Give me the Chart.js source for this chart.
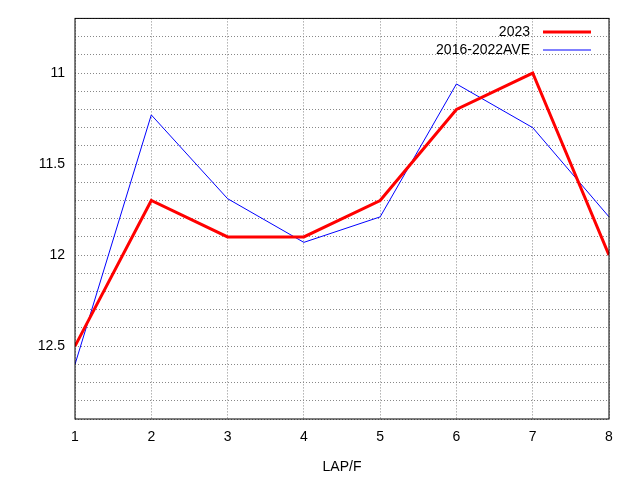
<!DOCTYPE html>
<html>
<head>
<script src="https://cdn.jsdelivr.net/npm/chart.js@4"></script>
<style>body{margin:0;background:#fff}#wrap{width:640px;height:480px}</style>
</head>
<body>
<div id="wrap"><canvas id="c"></canvas></div>
<script>
const laps = [1, 2, 3, 4, 5, 6, 7, 8];
const times2023 = [12.5, 11.7, 11.9, 11.9, 11.7, 11.2, 11.0, 12.0];
const timesAve = [12.6, 11.23, 11.69, 11.93, 11.79, 11.06, 11.3, 11.79];
const yLabels = [11, 11.5, 12, 12.5];

const font = { family: 'Liberation Sans, Arial, sans-serif', size: 14 };

// gnuplot-style key in the top right corner
const keyPlugin = {
  id: 'key',
  afterDraw(chart) {
    const ctx = chart.ctx;
    ctx.save();
    ctx.font = '14px Liberation Sans, Arial, sans-serif';
    ctx.textAlign = 'right';
    ctx.textBaseline = 'middle';
    chart.data.datasets.forEach((ds, i) => {
      const y = 32 + i * 18;
      ctx.fillStyle = '#000';
      ctx.fillText(ds.label, 530, y);
      ctx.strokeStyle = ds.borderColor;
      ctx.lineWidth = ds.borderWidth;
      ctx.beginPath();
      ctx.moveTo(543, y);
      ctx.lineTo(591, y);
      ctx.stroke();
    });
    const a = chart.chartArea;
    ctx.strokeStyle = '#000';
    ctx.lineWidth = 1;
    ctx.strokeRect(a.left, a.top, a.right - a.left, a.bottom - a.top);
    ctx.restore();
  }
};

new Chart(document.getElementById('c'), {
  type: 'line',
  data: {
    datasets: [
      { label: '2023', data: laps.map((x, i) => ({ x, y: times2023[i] })),
        borderColor: '#ff0000', borderWidth: 3, pointRadius: 0, tension: 0 },
      { label: '2016-2022AVE', data: laps.map((x, i) => ({ x, y: timesAve[i] })),
        borderColor: '#0000ff', borderWidth: 1, pointRadius: 0, tension: 0 }
    ]
  },
  options: {
    responsive: true,
    maintainAspectRatio: false,
    animation: false,
    layout: { padding: { top: 18, right: 31, left: 0, bottom: 0 } },
    plugins: { legend: { display: false }, tooltip: { enabled: false } },
    scales: {
      x: {
        type: 'linear', min: 1, max: 8,
        ticks: { stepSize: 1, color: '#000', font, padding: 10, autoSkip: false },
        grid: { color: '#888', drawTicks: false },
        border: { display: false, dash: [1, 2] },
        title: { display: true, text: 'LAP/F', color: '#000', font },
        afterFit(s) { s.height = 61; }
      },
      y: {
        type: 'linear', min: 10.7, max: 12.9, reverse: true,
        afterBuildTicks(s) {
          const t = [];
          for (let i = 107; i <= 129; i++) t.push({ value: i / 10 });
          s.ticks = t;
        },
        ticks: {
          color: '#000', font, padding: 10, autoSkip: false,
          callback: v => yLabels.some(l => Math.abs(l - v) < 1e-6) ? String(Math.round(v * 10) / 10) : ''
        },
        grid: { color: '#888', drawTicks: false },
        border: { display: false, dash: [1, 2] },
        afterFit(s) { s.width = 75; }
      }
    }
  },
  plugins: [keyPlugin]
});
</script>
</body>
</html>
